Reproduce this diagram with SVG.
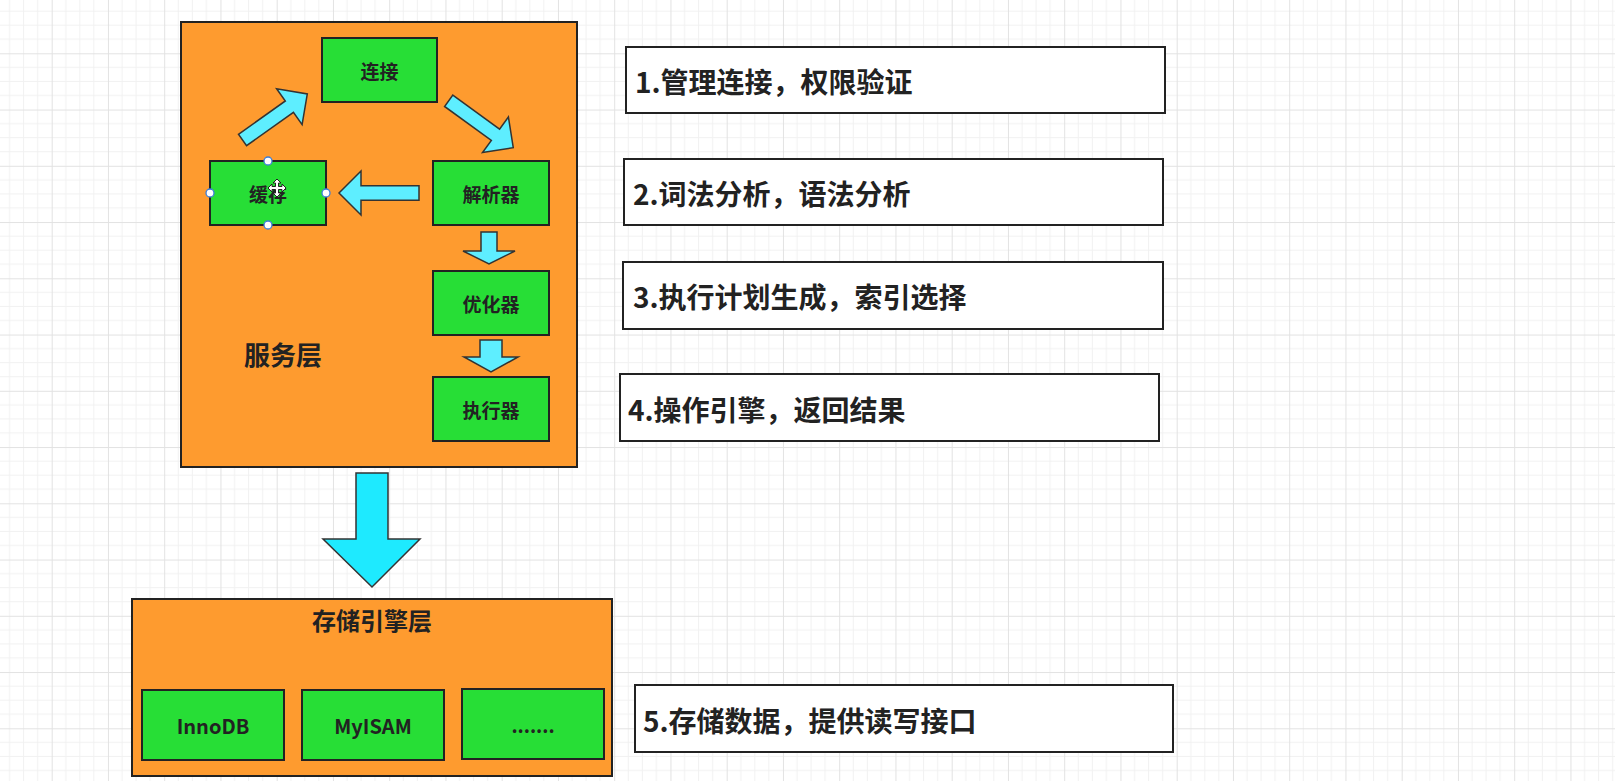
<svg xmlns="http://www.w3.org/2000/svg" width="1615" height="781" viewBox="0 0 1615 781">
<defs>
<pattern id="grid" patternUnits="userSpaceOnUse" x="51.7" y="53.3" width="56.25" height="56.25">
<path d="M14.06 0V56.25M28.125 0V56.25M42.19 0V56.25M0 14.06H56.25M0 28.125H56.25M0 42.19H56.25" stroke="#f1f1f1" stroke-width="1" fill="none"/>
<path d="M0.5 0V56.25M0 0.5H56.25" stroke="#e2e2e2" stroke-width="1" fill="none"/>
</pattern>
<style>
.layer{fill:#fe9b2f;stroke:#222;stroke-width:2}
.node{fill:#27de36;stroke:#222;stroke-width:2}
.note{fill:#fff;stroke:#222;stroke-width:2}
.arrow{fill:#5eeeff;stroke:#333;stroke-width:1.5;stroke-linejoin:miter}
.big{fill:#1eeaff;stroke:#333;stroke-width:1.5}
.t{font-family:"Noto Sans CJK SC","Noto Sans",sans-serif;font-weight:bold;fill:#222;dominant-baseline:central}
.c{text-anchor:middle}
.handle{fill:#fff;stroke:#3b7dd8;stroke-width:1.3}
</style>
</defs>
<rect x="0" y="0" width="1615" height="781" fill="#fff"/>
<rect x="0" y="0" width="1615" height="781" fill="url(#grid)"/>

<g id="service-layer">
<rect class="layer" x="181" y="22" width="396" height="445"/>
<text class="t c" x="283" y="353" font-size="26">服务层</text>
</g>

<g id="node-connect">
<rect class="node" x="322" y="38" width="115" height="64"/>
<text class="t c" x="379.5" y="70" font-size="19">连接</text>
</g>
<g id="node-cache">
<rect class="node" x="210" y="161" width="116" height="64"/>
<text class="t c" x="268" y="193" font-size="19">缓存</text>
</g>
<g id="node-parser">
<rect class="node" x="433" y="161" width="116" height="64"/>
<text class="t c" x="491" y="193" font-size="19">解析器</text>
</g>
<g id="node-optimizer">
<rect class="node" x="433" y="271" width="116" height="64"/>
<text class="t c" x="491" y="303" font-size="19">优化器</text>
</g>
<g id="node-executor">
<rect class="node" x="433" y="377" width="116" height="64"/>
<text class="t c" x="491" y="409" font-size="19">执行器</text>
</g>

<g id="storage-layer">
<rect class="layer" x="132" y="599" width="480" height="177"/>
<text class="t c" x="372" y="619" font-size="24">存储引擎层</text>
</g>
<g id="node-innodb">
<rect class="node" x="142" y="690" width="142" height="70"/>
<text class="t c" x="213" y="725" font-size="20">InnoDB</text>
</g>
<g id="node-myisam">
<rect class="node" x="302" y="690" width="142" height="70"/>
<text class="t c" x="373" y="725" font-size="20">MyISAM</text>
</g>
<g id="node-more">
<rect class="node" x="462" y="689" width="142" height="70"/>
<text class="t c" x="533" y="724" font-size="19">.......</text>
</g>

<g id="note-1">
<rect class="note" x="626" y="47" width="539" height="66"/>
<text class="t" x="635" y="81" font-size="28">1.管理连接，权限验证</text>
</g>
<g id="note-2">
<rect class="note" x="624" y="159" width="539" height="66"/>
<text class="t" x="633" y="193" font-size="28">2.词法分析，语法分析</text>
</g>
<g id="note-3">
<rect class="note" x="623" y="262" width="540" height="67"/>
<text class="t" x="633" y="296" font-size="28">3.执行计划生成，索引选择</text>
</g>
<g id="note-4">
<rect class="note" x="620" y="374" width="539" height="67"/>
<text class="t" x="628" y="409" font-size="28">4.操作引擎，返回结果</text>
</g>
<g id="note-5">
<rect class="note" x="635" y="685" width="538" height="67"/>
<text class="t" x="643" y="720" font-size="28">5.存储数据，提供读写接口</text>
</g>

<g id="connectors">
<polygon class="arrow" transform="translate(242.5,140) rotate(-35.4)" points="0,-7 57.5,-7 57.5,-22 79.5,0 57.5,22 57.5,7 0,7"/>
<polygon class="arrow" transform="translate(448.7,100.8) rotate(36)" points="0,-7 57.8,-7 57.8,-22 79.8,0 57.8,22 57.8,7 0,7"/>
<polygon class="arrow" points="419,185.8 361,185.8 361,171 339,193 361,215 361,200.2 419,200.2"/>
<polygon class="arrow" points="481,232 497,232 497,251 515,251 489,264 463,251 481,251"/>
<polygon class="arrow" points="480,340 502,340 502,357 518,357 491,372 464,357 480,357"/>
<polygon class="big" points="356,473 388,473 388,539 420,539 372,587 323,539 356,539"/>
</g>

<g id="selection">
<circle class="handle" cx="268" cy="161" r="4"/>
<circle class="handle" cx="210" cy="193" r="4"/>
<circle class="handle" cx="326" cy="193" r="4"/>
<circle class="handle" cx="268" cy="225" r="4"/>
<polygon transform="translate(277,188)" fill="#fff" stroke="#222" stroke-width="1" points="0,-9 4,-5 1.5,-5 1.5,-1.5 5,-1.5 5,-4 9,0 5,4 5,1.5 1.5,1.5 1.5,5 4,5 0,9 -4,5 -1.5,5 -1.5,1.5 -5,1.5 -5,4 -9,0 -5,-4 -5,-1.5 -1.5,-1.5 -1.5,-5 -4,-5"/>
</g>
</svg>
